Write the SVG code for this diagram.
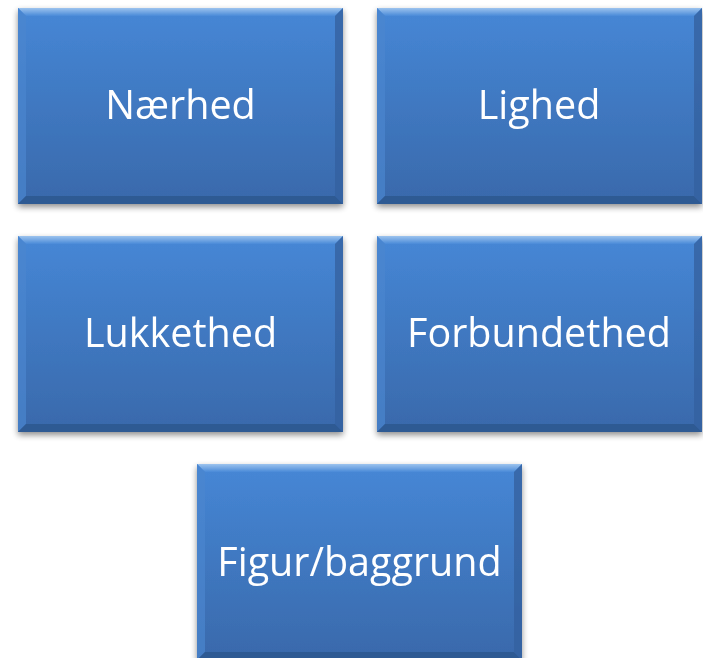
<svg xmlns="http://www.w3.org/2000/svg" width="703" height="658" viewBox="0 0 703 658">
<defs>
<linearGradient id="fill" x1="0" y1="0" x2="0" y2="1">
<stop offset="0" stop-color="#4687d6"/>
<stop offset="1" stop-color="#3969ab"/>
</linearGradient>
<linearGradient id="topb" x1="0" y1="0" x2="0" y2="1">
<stop offset="0" stop-color="#9cc3ee"/>
<stop offset="1" stop-color="#4a8ad8"/>
</linearGradient>
<filter id="sh" x="-10%" y="-10%" width="120%" height="125%">
<feGaussianBlur in="SourceAlpha" stdDeviation="3"/>
<feOffset dx="0" dy="3" result="b"/>
<feComponentTransfer><feFuncA type="linear" slope="0.45"/></feComponentTransfer>
<feMerge><feMergeNode/><feMergeNode in="SourceGraphic"/></feMerge>
</filter>
<g id="box">
<rect x="0" y="0" width="325" height="196" fill="url(#fill)"/>
<polygon points="0,0 325,0 317,8 8,8" fill="url(#topb)"/>
<polygon points="0,0 8,8 8,188 0,196" fill="#4a86cf" opacity="0.7"/>
<polygon points="0,196 8,188 317,188 325,196" fill="#2f5a93"/>
<polygon points="325,0 317,8 317,188 325,196" fill="#3462a0" opacity="0.8"/>
</g>
</defs>
<style>
text{font-family:"Open Sans","Liberation Sans",sans-serif;font-size:39.5px;fill:#ffffff;text-anchor:middle}
</style>
<g id="connectors"/>
<g id="n1" filter="url(#sh)"><use href="#box" x="18" y="8"/><text x="180.5" y="119">Nærhed</text></g>
<g id="n2" filter="url(#sh)"><use href="#box" x="377" y="8"/><text x="539" y="119">Lighed</text></g>
<g id="n3" filter="url(#sh)"><use href="#box" x="18" y="236"/><text x="180.5" y="347">Lukkethed</text></g>
<g id="n4" filter="url(#sh)"><use href="#box" x="377" y="236"/><text x="539" y="347">Forbundethed</text></g>
<g id="n5" filter="url(#sh)"><use href="#box" x="197" y="464"/><text x="359.5" y="576">Figur/baggrund</text></g>
</svg>
